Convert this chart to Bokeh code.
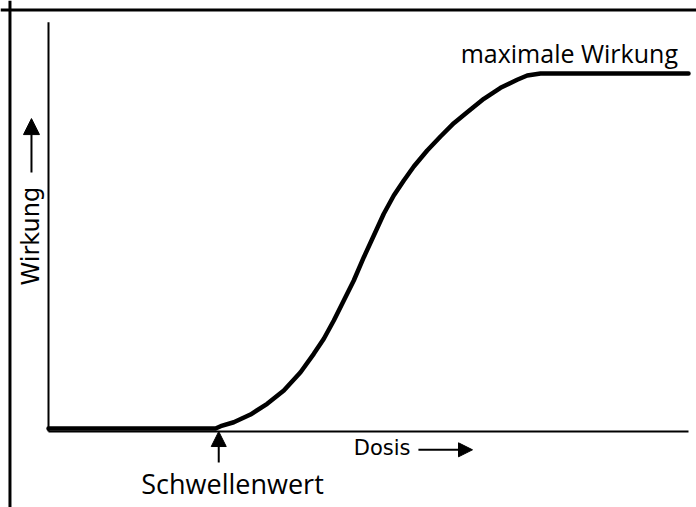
from bokeh.plotting import figure
from bokeh.models import Range1d, Arrow, NormalHead, Span
from bokeh.core.properties import value
from bokeh.embed import file_html
from bokeh.resources import INLINE
import math

# Dose-response curve (Dosis 0..100, Wirkung 0..100)
dose = [0, 26.1, 26.9, 28.95, 31.56, 34.17, 36.77, 39.38, 41.45, 43.02, 44.58, 46.14,
        47.7, 49.27, 50.83, 52.39, 53.95, 55.52, 57.08, 59.17, 61.25, 63.33, 65.42,
        68.02, 70.63, 73.23, 74.8, 76.88, 100]
effect = [0, 0, 0.65, 1.77, 3.94, 6.96, 10.7, 15.86, 21.04, 25.27, 30.42, 36.06,
          41.69, 48.25, 54.37, 60.48, 65.63, 69.86, 73.8, 78.31, 82.25, 86.0, 89.1,
          92.87, 95.97, 98.23, 99.44, 100, 100]

threshold_dose = 26.6
x_label = "Dosis"
y_label = "Wirkung"
max_label = "maximale Wirkung"
threshold_label = "Schwellenwert"

p = figure(width=696, height=507, output_backend="svg", toolbar_location=None,
           x_range=Range1d(-7.5, 101.25), y_range=Range1d(-22.25, 120.56),
           x_axis_location=None, y_axis_location=None, min_border=0)
p.grid.visible = False
p.outline_line_color = None
p.background_fill_color = "white"
p.border_fill_color = "white"

# frame lines (top and left)
p.add_layout(Span(location=117.89, dimension="width", line_color="black", line_width=3))
p.add_layout(Span(location=-6.02, dimension="height", line_color="black", line_width=3))

# axes lines
p.line([0, 100], [-0.85, -0.85], line_color="black", line_width=2)
p.line([0, 0], [-0.85, 114.4], line_color="black", line_width=2)

# curve
p.line(dose, effect, line_color="black", line_width=4.5, line_join="round", line_cap="round")

# labels
p.text(x=[64.4], y=[105.8], text=[max_label], text_font=value("Open Sans"),
       text_font_size=value("25px"), text_baseline="alphabetic", text_align="left", text_color="black")
p.text(x=[14.5], y=[-15.5], text=[threshold_label], text_font=value("Open Sans"),
       text_font_size=value("27px"), text_baseline="alphabetic", text_align="left", text_color="black")
p.text(x=[47.7], y=[-5.4], text=[x_label], text_font=value("DejaVu Sans"),
       text_font_size=value("21px"), text_baseline="alphabetic", text_align="left", text_color="black")
p.text(x=[-2.67], y=[40.3], text=[y_label], angle=math.pi / 2, text_font=value("DejaVu Sans"),
       text_font_size=value("24px"), text_baseline="alphabetic", text_align="left", text_color="black")

# arrows
p.add_layout(Arrow(end=NormalHead(size=16, fill_color="black", line_color="black"),
                   x_start=-2.66, y_start=72.1, x_end=-2.66, y_end=87.3, line_width=2))
p.add_layout(Arrow(end=NormalHead(size=14, fill_color="black", line_color="black"),
                   x_start=57.8, y_start=-6.0, x_end=66.25, y_end=-6.0, line_width=2))
p.add_layout(Arrow(end=NormalHead(size=15, fill_color="black", line_color="black"),
                   x_start=threshold_dose, y_start=-9.58, x_end=threshold_dose, y_end=-0.85, line_width=2))

open("out.html", "w").write(file_html(p, INLINE))
